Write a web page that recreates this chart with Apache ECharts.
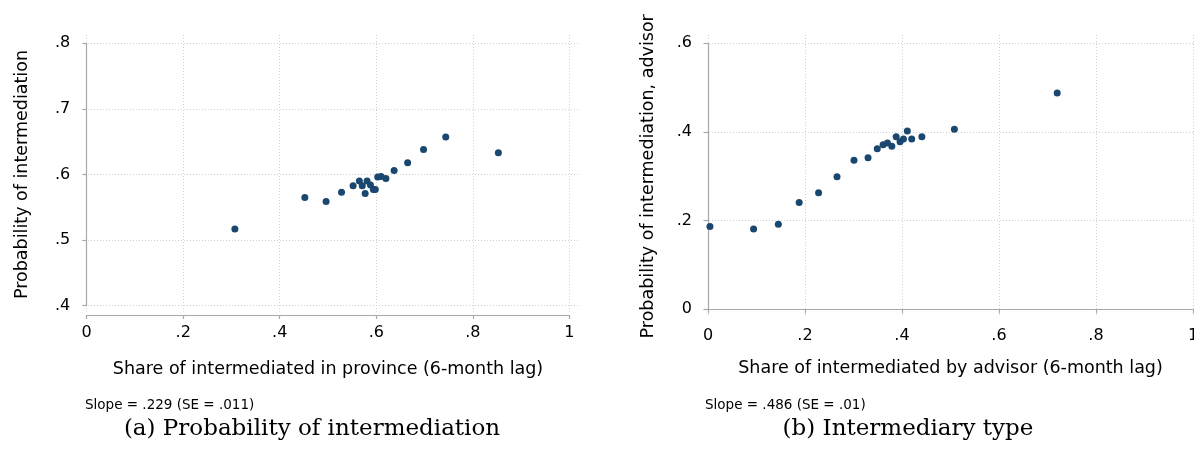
<!DOCTYPE html>
<html>
<head>
<meta charset="utf-8">
<script src="https://cdn.jsdelivr.net/npm/echarts@6/dist/echarts.min.js"></script>
<style>
html,body{margin:0;padding:0;background:#fff;}
#chart{width:1194px;height:457px;}
</style>
</head>
<body>
<div id="chart"></div>
<script>
// ---- Data ----
const provShare = [0.307, 0.452, 0.496, 0.528, 0.552, 0.565, 0.571, 0.577, 0.581, 0.588, 0.594, 0.598, 0.603, 0.610, 0.620, 0.637, 0.665, 0.698, 0.744, 0.853];
const provProb  = [0.517, 0.565, 0.559, 0.573, 0.583, 0.590, 0.583, 0.571, 0.590, 0.584, 0.577, 0.577, 0.596, 0.597, 0.594, 0.606, 0.618, 0.638, 0.657, 0.633];

const advShare = [0.004, 0.094, 0.145, 0.188, 0.228, 0.266, 0.301, 0.330, 0.349, 0.361, 0.370, 0.379, 0.388, 0.396, 0.403, 0.411, 0.420, 0.441, 0.508, 0.720];
const advProb  = [0.187, 0.181, 0.192, 0.241, 0.263, 0.299, 0.336, 0.342, 0.362, 0.371, 0.375, 0.368, 0.389, 0.378, 0.384, 0.402, 0.384, 0.389, 0.406, 0.488];

const xTickVals = [0, 0.2, 0.4, 0.6, 0.8, 1];
const xTickLabels = ['0', '.2', '.4', '.6', '.8', '1'];
const yTickValsL = [0.4, 0.5, 0.6, 0.7, 0.8];
const yTickLabelsL = ['.4', '.5', '.6', '.7', '.8'];
const yTickValsR = [0, 0.2, 0.4, 0.6];
const yTickLabelsR = ['0', '.2', '.4', '.6'];

const xTitles = ['Share of intermediated in province (6-month lag)', 'Share of intermediated by advisor (6-month lag)'];
const yTitles = ['Probability of intermediation', 'Probability of intermediation, advisor'];
const notes = ['Slope = .229 (SE = .011)', 'Slope = .486 (SE = .01)'];
const captions = ['(a) Probability of intermediation', '(b) Intermediary type'];

// ---- Layout ----
const panels = [
  {x0: 86.7, x1: 569.3, yTopPx: 43.3, yBotPx: 305.7, yTopVal: 0.8, yBotVal: 0.4, yInt: 0.1,
   padL: 4.7, padR: 9, padT: 8.3, padB: 6, xOff: 9.3, yOff: 9.4,
   yVals: yTickValsL, yLabs: yTickLabelsL, xs: provShare, ys: provProb,
   yGap: 46, xGap: 45, xMargin: 10},
  {x0: 708, x1: 1193, yTopPx: 43.3, yBotPx: 309.3, yTopVal: 0.6, yBotVal: 0, yInt: 0.2,
   padL: 5, padR: 9, padT: 8.3, padB: 6, xOff: 9.7, yOff: 9,
   yVals: yTickValsR, yLabs: yTickLabelsR, xs: advShare, ys: advProb,
   yGap: 42, xGap: 40, xMargin: 9}
];

const FONT = 'DejaVu Sans';
const AXIS_COLOR = '#a8a8a8';
const GRID_COLOR = '#cfcfcf';
const DOT = '#1a476f';

function labeler(vals, labs) {
  return function (v) {
    for (let i = 0; i < vals.length; i++) if (Math.abs(vals[i] - v) < 1e-6) return labs[i];
    return '';
  };
}

const grid = [], xAxis = [], yAxis = [], series = [];
panels.forEach((p, i) => {
  const ppx = (p.x1 - p.x0);
  const ppy = (p.yBotPx - p.yTopPx) / (p.yTopVal - p.yBotVal);
  // grid A: plot region with dotted gridlines
  grid.push({left: p.x0 - p.padL, top: p.yTopPx - p.padT,
             width: ppx + p.padL + p.padR, height: (p.yBotPx - p.yTopPx) + p.padT + p.padB,
             containLabel: false, outerBoundsMode: 'none'});
  // grid B: exact data range with axes
  grid.push({left: p.x0, top: p.yTopPx, width: ppx, height: p.yBotPx - p.yTopPx,
             containLabel: false, outerBoundsMode: 'none'});
  const gA = grid.length - 2, gB = grid.length - 1;
  xAxis.push({type: 'value', gridIndex: gA,
    min: -p.padL / ppx, max: 1 + p.padR / ppx, minInterval: 0.2, maxInterval: 0.2,
    axisLine: {show: false}, axisTick: {show: false}, axisLabel: {show: false},
    splitLine: {show: true, showMinLine: false, showMaxLine: false,
                lineStyle: {color: GRID_COLOR, type: [1, 2], width: 1}}});
  yAxis.push({type: 'value', gridIndex: gA,
    min: p.yBotVal - p.padB / ppy, max: p.yTopVal + p.padT / ppy, minInterval: p.yInt, maxInterval: p.yInt,
    axisLine: {show: false}, axisTick: {show: false}, axisLabel: {show: false},
    splitLine: {show: true, showMinLine: false, showMaxLine: false,
                lineStyle: {color: GRID_COLOR, type: [1, 2], width: 1}}});
  xAxis.push({type: 'value', gridIndex: gB, min: 0, max: 1, interval: 0.2, offset: p.xOff,
    axisLine: {show: true, lineStyle: {color: AXIS_COLOR, width: 1.2}},
    axisTick: {show: true, length: 4, lineStyle: {color: AXIS_COLOR, width: 1.2}},
    axisLabel: {show: true, margin: p.xMargin, color: '#000', fontFamily: FONT, fontSize: 16,
                formatter: labeler(xTickVals, xTickLabels), showMinLabel: true, showMaxLabel: true},
    splitLine: {show: false},
    name: xTitles[i], nameLocation: 'middle', nameGap: p.xGap,
    nameTextStyle: {color: '#000', fontFamily: FONT, fontSize: 17.5}});
  yAxis.push({type: 'value', gridIndex: gB, min: p.yBotVal, max: p.yTopVal, interval: p.yInt, offset: p.yOff,
    axisLine: {show: true, lineStyle: {color: AXIS_COLOR, width: 1.2}},
    axisTick: {show: true, length: 4, lineStyle: {color: AXIS_COLOR, width: 1.2}},
    axisLabel: {show: true, margin: 7, color: '#000', fontFamily: FONT, fontSize: 16,
                formatter: labeler(p.yVals, p.yLabs), showMinLabel: true, showMaxLabel: true},
    splitLine: {show: false},
    name: yTitles[i], nameLocation: 'middle', nameGap: p.yGap, nameRotate: 90,
    nameTextStyle: {color: '#000', fontFamily: FONT, fontSize: 17.5}});
  const xi = xAxis.length - 1, yi = yAxis.length - 1;
  series.push({type: 'scatter', xAxisIndex: xi, yAxisIndex: yi,
    data: p.xs.map((x, k) => [x, p.ys[k]]),
    symbol: 'circle', symbolSize: 7, clip: false,
    itemStyle: {color: DOT, opacity: 1}, emphasis: {disabled: true}});
});

const title = [
  {text: notes[0], left: 80, top: 393, textStyle: {fontFamily: FONT, fontSize: 13.5, fontWeight: 'normal', color: '#000'}},
  {text: notes[1], left: 700, top: 393, textStyle: {fontFamily: FONT, fontSize: 13.5, fontWeight: 'normal', color: '#000'}},
  {text: captions[0], left: 307, top: 413, textAlign: 'center', textStyle: {fontFamily: 'DejaVu Serif', fontSize: 23, fontWeight: 'normal', color: '#000'}},
  {text: captions[1], left: 903, top: 413, textAlign: 'center', textStyle: {fontFamily: 'DejaVu Serif', fontSize: 23, fontWeight: 'normal', color: '#000'}}
];

const chart = echarts.init(document.getElementById('chart'), null, {renderer: 'canvas'});
chart.setOption({animation: false, backgroundColor: '#fff', title, grid, xAxis, yAxis, series, tooltip: {show: false}});
</script>
</body>
</html>
